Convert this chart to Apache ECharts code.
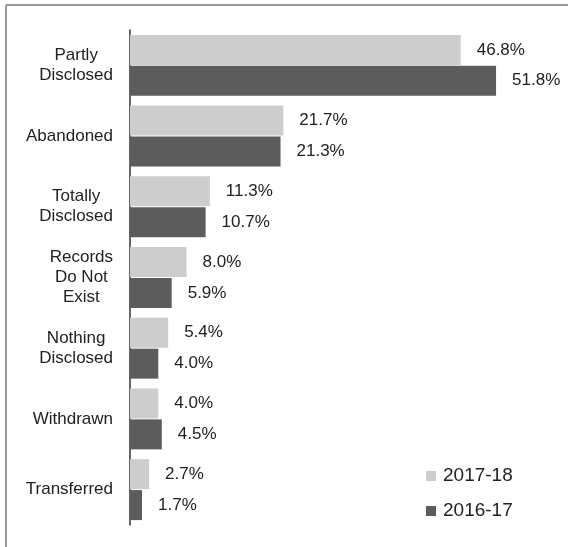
<!DOCTYPE html>
<html>
<head>
<meta charset="utf-8">
<script src="https://cdn.jsdelivr.net/npm/echarts@6/dist/echarts.min.js"></script>
<style>
  html, body { margin: 0; padding: 0; background: #fff; }
  #chart { width: 568px; height: 547px; }
</style>
</head>
<body>
<div id="chart"></div>
<script>
// Request outcomes, share of all requests (%)
const categories = [
  'Partly\nDisclosed',
  'Abandoned',
  'Totally\nDisclosed',
  'Records\nDo Not\nExist',
  'Nothing\nDisclosed',
  'Withdrawn',
  'Transferred'
];
const seriesNames = ['2017-18', '2016-17'];
const values2017_18 = [46.8, 21.7, 11.3, 8.0, 5.4, 4.0, 2.7];
const values2016_17 = [51.8, 21.3, 10.7, 5.9, 4.0, 4.5, 1.7];

const FONT = "Arial, 'Liberation Sans', sans-serif";
const TEXT = '#222';

const chart = echarts.init(document.getElementById('chart'));

function barSeries(name, data, color) {
  return {
    name: name,
    type: 'bar',
    data: data,
    barWidth: 30,
    barGap: '3%',
    itemStyle: { color: color },
    label: {
      show: true,
      position: 'right',
      distance: 16,
      color: TEXT,
      fontFamily: FONT,
      fontSize: 17,
      formatter: p => p.value.toFixed(1) + '%'
    },
    emphasis: { disabled: true }
  };
}

chart.setOption({
  animation: false,
  backgroundColor: '#fff',
  grid: { left: 130, right: 14, top: 30, bottom: 22, containLabel: false },
  xAxis: {
    type: 'value',
    min: 0,
    max: 60,
    show: false
  },
  yAxis: {
    type: 'category',
    data: categories,
    inverse: true,
    axisLine: { show: true, lineStyle: { color: '#333', width: 1.5 } },
    axisTick: { show: false },
    splitLine: { show: false },
    axisLabel: {
      margin: 17,
      align: 'right',
      color: TEXT,
      fontFamily: FONT,
      fontSize: 17,
      lineHeight: 20,
      // block right-aligned, each line centred within it
      formatter: v => v.split('\n').map(s => '{c|' + s + '}').join('\n'),
      rich: {
        c: { align: 'center', color: TEXT, fontFamily: FONT, fontSize: 17, lineHeight: 20 }
      }
    }
  },
  legend: {
    orient: 'vertical',
    left: 426,
    top: 466,
    padding: 0,
    itemWidth: 10,
    itemHeight: 10,
    itemGap: 15,
    icon: 'rect',
    data: seriesNames,
    textStyle: { color: TEXT, fontFamily: FONT, fontSize: 19, lineHeight: 20, padding: [0, 0, 0, 2] }
  },
  graphic: [
    { type: 'line', shape: { x1: 6, y1: 5, x2: 6, y2: 547 }, style: { stroke: '#999', lineWidth: 2 }, silent: true },
    { type: 'line', shape: { x1: 6, y1: 5, x2: 568, y2: 5 }, style: { stroke: '#999', lineWidth: 2 }, silent: true }
  ],
  series: [
    barSeries(seriesNames[0], values2017_18, '#cdcdcd'),
    barSeries(seriesNames[1], values2016_17, '#5c5c5c')
  ]
});
</script>
</body>
</html>
